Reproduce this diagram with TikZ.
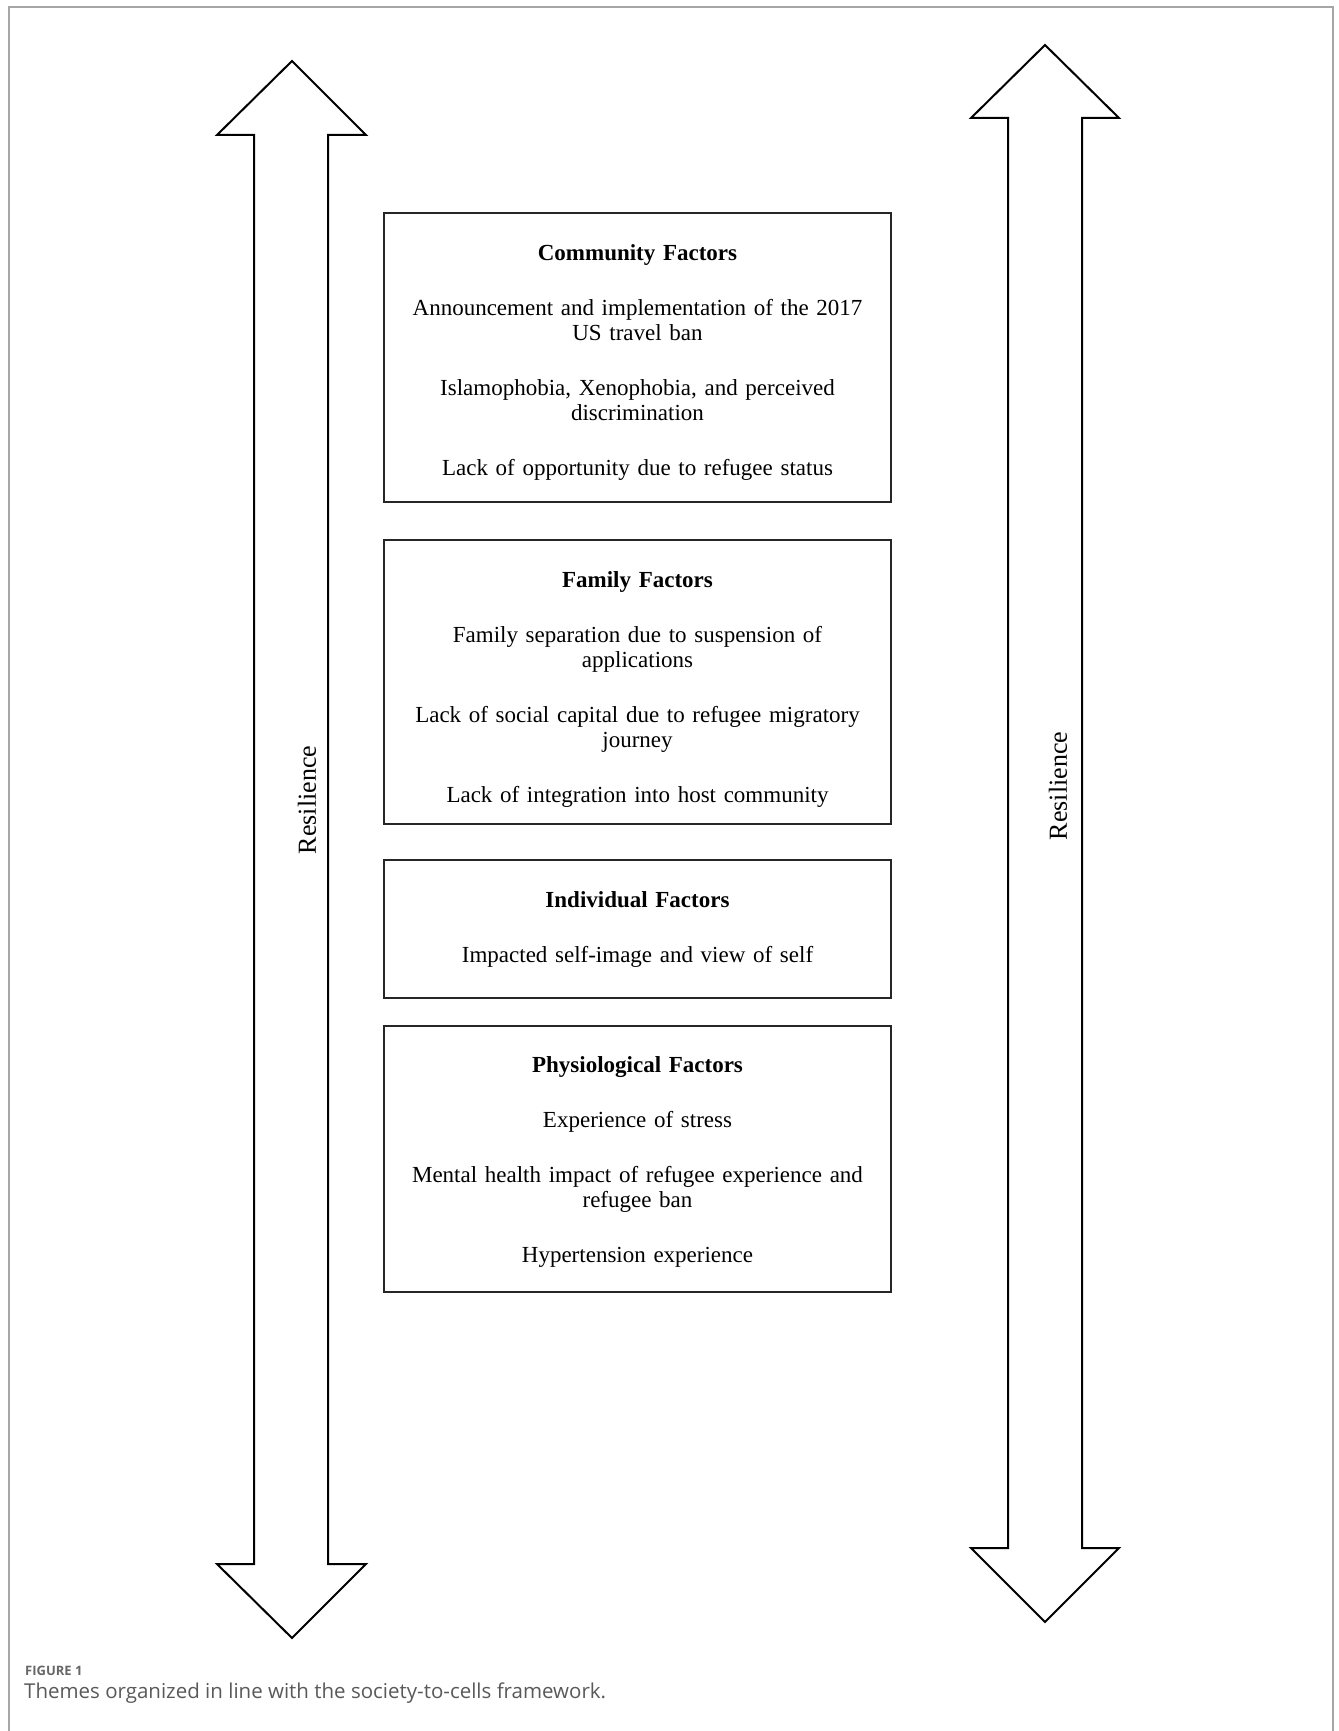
\documentclass[tikz,border=0pt]{standalone}
\usepackage{fontspec}
\setmainfont{Liberation Serif}
\newfontfamily\capfont{Open Sans}

\begin{document}
\begin{tikzpicture}[x=1pt, y=-1pt,
    factorbox/.style={draw, line width=2.2pt, draw=black!85, inner sep=0pt,
        minimum width=507pt, text width=490pt, align=center,
        font=\fontsize{23}{25}\selectfont},
    bigarrow/.style={draw, line width=2pt, line join=miter},
    reslabel/.style={rotate=90, font=\fontsize{26}{28}\selectfont}]
    \useasboundingbox (0,0) rectangle (1338,1731);
    % Draw frame
    \draw [black!35, line width=1.5pt] (9,1731) -- (9,7) -- (1333,7) -- (1333,1731);
    % Draw left arrow
    \coordinate (ltop) at (292,61);
    \coordinate (lbot) at (292,1638);
    \draw [bigarrow] (ltop) -- (366,135) -- (328,135) -- (328,1564) -- (366,1564)
        -- (lbot) -- (217,1564) -- (254,1564) -- (254,135) -- (217,135) -- cycle;
    % Draw right arrow
    \coordinate (rtop) at (1045,45);
    \coordinate (rbot) at (1045,1622);
    \draw [bigarrow] (rtop) -- (1119,118) -- (1082,118) -- (1082,1548) -- (1119,1548)
        -- (rbot) -- (971,1548) -- (1008,1548) -- (1008,118) -- (971,118) -- cycle;
    \node [reslabel] (lres) at (307,800) {Resilience};
    \node [reslabel] (rres) at (1058,786) {Resilience};
    % Factor boxes
    \node [factorbox, minimum height=289pt] (community) at (637.5,357.5) {%
        \rule{0pt}{26pt}\textbf{Community Factors}\\[30pt]
        Announcement and implementation of the 2017\\US travel ban\\[30pt]
        Islamophobia, Xenophobia, and perceived\\discrimination\\[30pt]
        Lack of opportunity due to refugee status};
    \node [factorbox, minimum height=284pt] (family) at (637.5,682) {%
        \rule{0pt}{30pt}\textbf{Family Factors}\\[30pt]
        Family separation due to suspension of\\applications\\[30pt]
        Lack of social capital due to refugee migratory\\journey\\[30pt]
        Lack of integration into host community};
    \node [factorbox, minimum height=138pt] (individual) at (637.5,929) {%
        \textbf{Individual Factors}\\[30pt]
        Impacted self-image and view of self};
    \node [factorbox, minimum height=266pt] (physio) at (637.5,1159) {%
        \rule{0pt}{22pt}\textbf{Physiological Factors}\\[30pt]
        Experience of stress\\[30pt]
        Mental health impact of refugee experience and\\refugee ban\\[30pt]
        Hypertension experience};
    % Caption
    \node [anchor=west, inner sep=0pt, text=black!60,
        font=\capfont\bfseries\fontsize{13}{15}\selectfont] (figlbl) at (25,1671) {FIGURE 1};
    \node [anchor=west, inner sep=0pt, text=black!65,
        font=\capfont\fontsize{20.5}{22}\selectfont] (figcap) at (24,1693)
        {Themes organized in line with the society-to-cells framework.};
\end{tikzpicture}
\end{document}
